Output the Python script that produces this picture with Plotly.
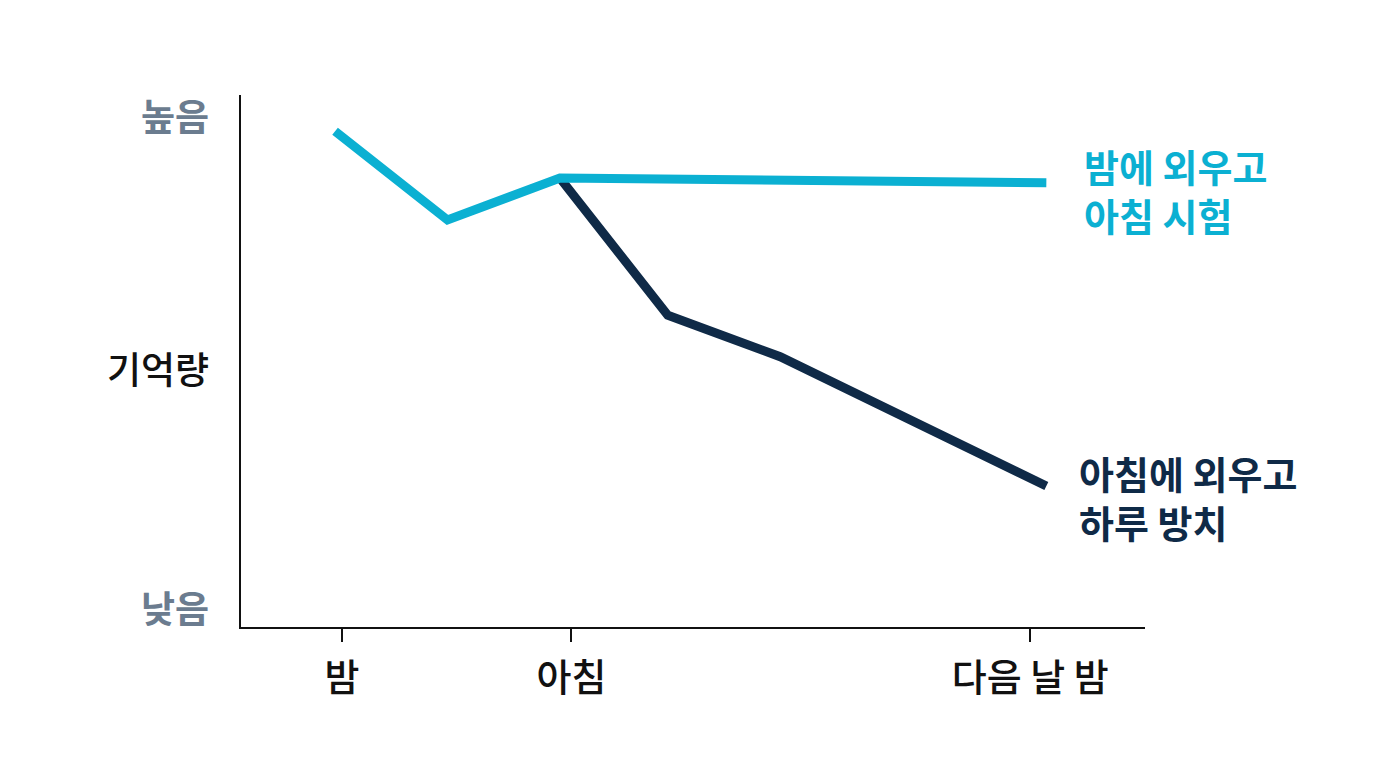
import plotly.graph_objects as go

# === 데이터 ===
x_night_study = [-0.03, 0.46, 0.95, 3.07]
y_night_study = [93.2, 76.5, 84.4, 83.5]

x_morning_study = [0.95, 1.42, 1.91, 3.07]
y_morning_study = [84.4, 58.6, 50.8, 26.5]

x_tick_vals = [0, 1, 3]
x_tick_text = ["밤", "아침", "다음 날 밤"]

y_tick_vals = [96.2, 48.7, 3.8]
y_tick_text = ["높음", "기억량", "낮음"]
y_tick_colors = ["#6b7c8f", "#111111", "#6b7c8f"]

label_night = "밤에 외우고<br>아침 시험"
label_morning = "아침에 외우고<br>하루 방치"

BLUE = "#0bb0d2"
NAVY = "#0f2a47"
FONT = "Noto Sans CJK KR"

fig = go.Figure()

fig.add_trace(go.Scatter(
    x=x_morning_study, y=y_morning_study, mode="lines",
    line=dict(color=NAVY, width=9), hoverinfo="skip",
))
fig.add_trace(go.Scatter(
    x=x_night_study, y=y_night_study, mode="lines",
    line=dict(color=BLUE, width=9), hoverinfo="skip",
))

# 라인 끝 라벨
fig.add_annotation(
    x=x_night_study[-1], y=y_night_study[-1], text="<b>" + label_night + "</b>",
    xanchor="left", yanchor="middle", xshift=36, yshift=-7, showarrow=False,
    align="left", font=dict(family=FONT, size=38, color=BLUE),
)
fig.add_annotation(
    x=x_morning_study[-1], y=y_morning_study[-1], text="<b>" + label_morning + "</b>",
    xanchor="left", yanchor="middle", xshift=31, yshift=-11, showarrow=False,
    align="left", font=dict(family=FONT, size=38, color=NAVY),
)

# y축 라벨 (색상 다름)
for v, t, c in zip(y_tick_vals, y_tick_text, y_tick_colors):
    fig.add_annotation(
        x=0, xref="paper", y=v, text=t, xanchor="right", yanchor="middle",
        xshift=-30, showarrow=False,
        font=dict(family=FONT, size=37, color=c, weight=700 if c != "#111111" else 500),
    )

fig.update_layout(
    width=1376, height=768,
    margin=dict(l=233, r=239, t=87, b=149),
    paper_bgcolor="white", plot_bgcolor="white",
    showlegend=False,
    font=dict(family=FONT, color="#111111"),
)

fig.update_xaxes(
    range=[-0.44, 3.5], showgrid=False, zeroline=False,
    showline=True, linecolor="#111111", linewidth=2,
    tickvals=x_tick_vals, ticktext=x_tick_text,
    ticks="outside", ticklen=13, tickwidth=2, tickcolor="#111111",
    ticklabelstandoff=3,
    tickfont=dict(family=FONT, size=38, color="#111111", weight=500),
)
fig.update_yaxes(
    range=[0, 100], showgrid=False, zeroline=False,
    showline=True, linecolor="#111111", linewidth=2,
    showticklabels=False, ticks="",
)

fig.write_html("out.html")
